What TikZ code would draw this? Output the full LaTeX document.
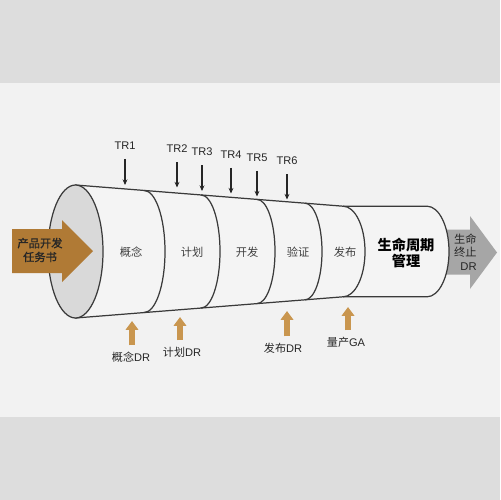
\documentclass[tikz,border=0pt]{standalone}
\usepackage{fontspec}
\setmainfont{Liberation Sans}
\newfontfamily\cjk{Noto Sans CJK SC}
\newfontfamily\cjkheavy[FakeBold=1.2]{Noto Sans CJK SC}
\usetikzlibrary{arrows.meta}
\definecolor{bgband}{HTML}{DDDDDD}
\definecolor{bgmid}{HTML}{F2F2F2}
\definecolor{conefill}{HTML}{F4F4F4}
\definecolor{capfill}{HTML}{D9D9D9}
\definecolor{lineclr}{HTML}{3A3A3A}
\definecolor{brownarr}{HTML}{B07A35}
\definecolor{tanarr}{HTML}{C9964F}
\definecolor{greyarr}{HTML}{A6A6A6}
\definecolor{segtext}{HTML}{404040}
\tikzset{
  outline/.style={draw=lineclr, line width=0.7pt},
  lbl/.style={inner sep=0pt, font=\fontsize{6.3pt}{7.9pt}\selectfont, text=black!85},
  seglbl/.style={inner sep=0pt, font=\fontsize{6.4pt}{7.9pt}\selectfont\cjk, text=segtext},
  trarrow/.style={draw=black!85, line width=0.7pt, -{Stealth[length=3.2pt,width=2.8pt]}, shorten <=5pt},
  drarrow/.style={draw=tanarr, line width=2.9pt, -{Triangle[length=5pt,width=7pt]}, shorten <=3.5pt}
}
\begin{document}
\begin{tikzpicture}[x=0.02cm,y=-0.02cm]
\useasboundingbox (0,0) rectangle (500,500);
% background
\fill[bgband] (0,0) rectangle (500,500);
\fill[bgmid] (0,83) rectangle (500,417);
% grey end arrow
\fill[greyarr] (438,229.5) -- (470,229.5) -- (470,216) -- (497,252.5) -- (470,289) -- (470,274.5) -- (438,274.5) -- cycle;
% cone body
\path[outline, fill=conefill] (75.5,185) -- (343,206.2) -- (427,206.2)
  .. controls (439.1,206.2) and (449,226.4) .. (449,251.5)
  .. controls (449,276.6) and (439.1,296.8) .. (427,296.8)
  -- (343,296.8) -- (75.5,318) -- cycle;
% dividers
\foreach \xx/\r in {144/21,201/19,257/18,305/17,343/22}{
  \pgfmathsetmacro\h{66.5-(\xx-75.5)*0.0792}
  \pgfmathsetmacro\yt{251.5-\h}
  \pgfmathsetmacro\yb{251.5+\h}
  \pgfmathsetmacro\cx{\xx+0.552*\r}
  \pgfmathsetmacro\bx{\xx+\r}
  \pgfmathsetmacro\cu{251.5-0.552*\h}
  \pgfmathsetmacro\cd{251.5+0.552*\h}
  \draw[outline] (\xx,\yt) .. controls (\cx,\yt) and (\bx,\cu) .. (\bx,251.5)
     .. controls (\bx,\cd) and (\cx,\yb) .. (\xx,\yb);
}
% front cap
\draw[outline, fill=capfill] (75.5,251.5) ellipse [x radius=27.5, y radius=66.5];
% input arrow
\fill[brownarr] (12,229) -- (62,229) -- (62,220) -- (93,251) -- (62,282) -- (62,273) -- (12,273) -- cycle;
\node[inner sep=0pt, align=center, font=\fontsize{6.4pt}{7.9pt}\selectfont\cjkheavy, text=black!85] (task) at (40,250) {产品开发\\任务书};
% segment labels
\node[seglbl] (s1) at (131,252) {概念};
\node[seglbl] (s2) at (192,252) {计划};
\node[seglbl] (s3) at (247,252) {开发};
\node[seglbl] (s4) at (298,252) {验证};
\node[seglbl] (s5) at (345,252) {发布};
\node[inner sep=0pt, align=center, font=\fontsize{8.1pt}{9.6pt}\selectfont\cjk\bfseries] (lc) at (406,253) {生命周期\\管理};
\node[inner sep=0pt, align=right, font=\fontsize{6.4pt}{7.7pt}\selectfont, text=black!85, anchor=east] (eol) at (477,252) {{\cjk 生命}\\{\cjk 终止}\\DR};
% TR labels and arrows
\node[lbl] (tr1) at (125,146) {TR1};
\node[lbl] (tr2) at (177,149) {TR2};
\node[lbl] (tr3) at (202,152) {TR3};
\node[lbl] (tr4) at (231,155) {TR4};
\node[lbl] (tr5) at (257,158) {TR5};
\node[lbl] (tr6) at (287,161) {TR6};
\coordinate (t1) at (125,185);
\coordinate (t2) at (177,187.5);
\coordinate (t3) at (202,191);
\coordinate (t4) at (231,193.5);
\coordinate (t5) at (257,196.5);
\coordinate (t6) at (287,199.5);
\foreach \i in {1,...,6}{\draw[trarrow] (tr\i.south) -- (t\i);}
% DR labels and arrows
\node[lbl] (dr1) at (131,357) {{\cjk 概念}DR};
\node[lbl] (dr2) at (182,352) {{\cjk 计划}DR};
\node[lbl] (dr3) at (283,348) {{\cjk 发布}DR};
\node[lbl] (dr4) at (346,342) {{\cjk 量产}GA};
\coordinate (d1) at (132,321);
\coordinate (d2) at (180,317);
\coordinate (d3) at (287,311);
\coordinate (d4) at (348,307);
\foreach \i in {1,...,4}{\draw[drarrow] (dr\i.north -| d\i) -- (d\i);}
\end{tikzpicture}
\end{document}
